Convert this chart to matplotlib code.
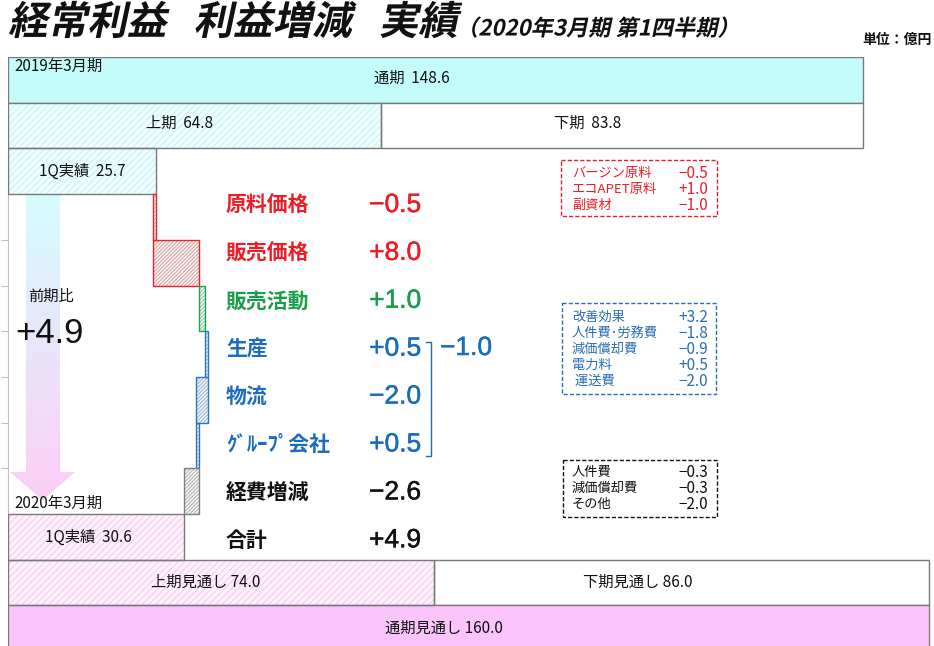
import matplotlib
matplotlib.use('Agg')
import matplotlib.pyplot as plt
import numpy as np
from matplotlib import patheffects
from matplotlib.transforms import Affine2D
from matplotlib.patches import Rectangle, Polygon

plt.rcParams['font.family'] = ['Noto Sans CJK JP', 'DejaVu Sans']
plt.rcParams['hatch.linewidth'] = 0.6

# ---------------- data ----------------
prev_period = '2019年3月期'
cur_period = '2020年3月期'
prev_full = 148.6
prev_h1 = 64.8
prev_h2 = 83.8
prev_q1 = 25.7
factor_names = ['原料価格', '販売価格', '販売活動', '生産', '物流', 'ｸﾞﾙｰﾌﾟ会社', '経費増減']
factor_values = [-0.5, 8.0, 1.0, 0.5, -2.0, 0.5, -2.6]
factor_groups = ['raw', 'raw', 'sales', 'prod', 'prod', 'prod', 'cost']
total_name = '合計'
total_change = 4.9
prod_subtotal = -1.0
cur_q1 = 30.6
fc_h1 = 74.0
fc_h2 = 86.0
fc_full = 160.0
raw_detail_names = ['バージン原料', 'エコAPET原料', '副資材']
raw_detail_values = [-0.5, 1.0, -1.0]
prod_detail_names = ['改善効果', '人件費･労務費', '減価償却費', '電力料', ' 運送費']
prod_detail_values = [3.2, -1.8, -0.9, 0.5, -2.0]
cost_detail_names = ['人件費', '減価償却費', 'その他']
cost_detail_values = [-0.3, -0.3, -2.0]


def fmt(v):
    return ('+' if v >= 0 else '\u2212') + f'{abs(v):.1f}'


# ---------------- layout ----------------
W, H = 934, 646
PX_PER_UNIT = 5.755
ROW = 45.7
AX_LEFT, AX_TOP = 8, 57

fig = plt.figure(figsize=(W / 100, H / 100), dpi=100)
ax = fig.add_axes([AX_LEFT / W, 0, 1 - AX_LEFT / W, (H - AX_TOP) / H])
xmax = (W - AX_LEFT) / PX_PER_UNIT
ymax = (H - AX_TOP) / ROW


def X(px):
    return (px - AX_LEFT) / PX_PER_UNIT


def Y(py):
    return (py - AX_TOP) / ROW


EDGE = '#7a7a7a'
CYAN = '#c4fcfc'
PINK = '#fcc4fc'
RED = '#ee1c25'
GREEN = '#1a9e4a'
BLUE = '#1a6cbf'
BLACK = '#111111'

group_style = {
    'raw': dict(edge='#e8262b', hatch='#c89a9a', face='#fbeeee'),
    'sales': dict(edge='#22a050', hatch='#80b896', face='#eef8f1'),
    'prod': dict(edge='#2e75c0', hatch='#8aa8c8', face='#eef4fa'),
    'cost': dict(edge='#808080', hatch='#a8a8a8', face='#f2f2f2'),
}


def hbar(row, width, left, face, edge, hatch=None, hatchcolor=None, lw=1.0):
    if hatch:
        ax.barh(row + 0.5, width, left=left, height=1.0, color=face,
                edgecolor=hatchcolor, hatch=hatch, linewidth=0, zorder=2)
        ax.barh(row + 0.5, width, left=left, height=1.0, fill=False,
                edgecolor=edge, linewidth=lw, zorder=3)
    else:
        ax.barh(row + 0.5, width, left=left, height=1.0, color=face,
                edgecolor=edge, linewidth=lw, zorder=2)


CYAN_H = dict(face='#edfefe', hc='#c2f0f2')
PINK_H = dict(face='#fef0fd', hc='#f4c4f0')

# previous year bars
hbar(0, prev_full, 0, CYAN, EDGE)
hbar(1, prev_h1, 0, CYAN_H['face'], EDGE, '/////', CYAN_H['hc'])
hbar(1, prev_h2, prev_h1, 'white', EDGE)
hbar(2, prev_q1, 0, CYAN_H['face'], EDGE, '/////', CYAN_H['hc'])

# waterfall
cum = prev_q1
for i, (v, g) in enumerate(zip(factor_values, factor_groups)):
    st = group_style[g]
    left = min(cum, cum + v)
    hbar(3 + i, abs(v), left, st['face'], st['edge'], '/////////', st['hatch'])
    cum += v

# current year / forecast bars
hbar(10, cur_q1, 0, PINK_H['face'], EDGE, '/////', PINK_H['hc'])
hbar(11, fc_h1, 0, PINK_H['face'], EDGE, '/////', PINK_H['hc'])
hbar(11, fc_h2, fc_h1, 'white', EDGE)
hbar(12, fc_full, 0, PINK, EDGE)

# gradient arrow
sx0, sx1 = X(26), X(60)
hx0, hx1 = X(10), X(75)
ytop, yhead, ytip = Y(194), Y(472), Y(500)
arrow_poly = Polygon([(sx0, ytop), (sx1, ytop), (sx1, yhead), (hx1, yhead),
                      ((hx0 + hx1) / 2, ytip), (hx0, yhead), (sx0, yhead)],
                     closed=True, facecolor='none', edgecolor='none',
                     transform=ax.transData)
ax.add_patch(arrow_poly)
c_top = np.array([214, 252, 254]) / 255
c_bot = np.array([252, 206, 246]) / 255
t = np.linspace(0, 1, 256)[:, None]
grad = (c_top[None, :] * (1 - t) + c_bot[None, :] * t)[:, None, :]
im = ax.imshow(grad, extent=(hx0, hx1, ytip, ytop), origin='upper',
               aspect='auto', zorder=1, interpolation='bilinear')
im.set_clip_path(arrow_poly)

# axes styling
ax.set_xlim(0, xmax)
ax.set_ylim(ymax, 0)
for s in ['top', 'right', 'bottom']:
    ax.spines[s].set_visible(False)
ax.spines['left'].set_color('#c0c0c0')
ax.spines['left'].set_bounds(2, 10)
ax.set_xticks([])
ax.set_yticks([4, 5, 6, 7, 8, 9])
ax.tick_params(axis='y', direction='out', length=5, color='#c0c0c0',
               labelleft=False)
ax.patch.set_visible(False)

# ---------------- texts ----------------
CJK = ['Noto Sans CJK JP', 'DejaVu Sans']
NUM = ['Liberation Sans', 'DejaVu Sans']


def T(px, py, s, **kw):
    kw.setdefault('fontsize', 11)
    kw.setdefault('va', 'center')
    kw.setdefault('color', BLACK)
    kw.setdefault('family', CJK)
    return ax.text(X(px), Y(py), s, zorder=5, **kw)


T(14, 66, prev_period, ha='left')
T(412, 78, f'通期  {prev_full:.1f}', ha='center')
T(180, 123, f'上期  {prev_h1:.1f}', ha='center')
T(588, 123, f'下期  {prev_h2:.1f}', ha='center')
T(82, 171, f'1Q実績  {prev_q1:.1f}', ha='center')
T(28, 296, '前期比', ha='left')
T(49, 333, f'+{total_change:.1f}', ha='center', fontsize=25, family=NUM)
T(14, 503, cur_period, ha='left')
T(88, 537, f'1Q実績  {cur_q1:.1f}', ha='center')
T(206, 582, f'上期見通し {fc_h1:.1f}', ha='center')
T(638, 582, f'下期見通し {fc_h2:.1f}', ha='center')
T(444, 628, f'通期見通し {fc_full:.1f}', ha='center')

gcolor = {'raw': RED, 'sales': GREEN, 'prod': BLUE, 'cost': BLACK}
names = factor_names + [total_name]
vals = factor_values + [total_change]
cols = [gcolor[g] for g in factor_groups] + [BLACK]
for i, (n, v, c) in enumerate(zip(names, vals, cols)):
    yy = 205 + i * 47.9
    T(226, yy, n, ha='left', fontsize=15, fontweight='bold', color=c)
    T(421, yy, fmt(v), ha='right', fontsize=19, family=NUM, color=c,
      path_effects=[patheffects.withStroke(linewidth=0.35, foreground=c)])
T(440, 348, fmt(prod_subtotal), ha='left', fontsize=19, family=NUM, color=BLUE,
  path_effects=[patheffects.withStroke(linewidth=0.35, foreground=BLUE)])
ax.plot([X(426), X(431), X(431), X(426)], [Y(342), Y(342), Y(456), Y(456)],
        color=BLUE, lw=1.0, zorder=4)


# detail boxes
def detail_box(x0, y0, x1, y1, names_, vals_, color, first_y, step):
    ax.add_patch(Rectangle((X(x0), Y(y0)), X(x1) - X(x0), Y(y1) - Y(y0),
                           fill=False, edgecolor=color, lw=1.0,
                           linestyle=(0, (3, 1.5)), zorder=4))
    for k, (n, v) in enumerate(zip(names_, vals_)):
        yy = first_y + k * step
        T(572, yy, n, ha='left', fontsize=9.5, color=color)
        T(708, yy, fmt(v), ha='right', fontsize=11, color=color)


detail_box(561, 160, 717, 216, raw_detail_names, raw_detail_values, RED, 173, 16)
detail_box(562, 303, 716, 394, prod_detail_names, prod_detail_values, '#2a6db5', 317, 16)
detail_box(563, 460, 717, 517, cost_detail_names, cost_detail_values, BLACK, 472, 16)


# ---------------- title with italic-like skew ----------------
class Skew(patheffects.AbstractPathEffect):
    def __init__(self, deg=12):
        super().__init__()
        self.deg = deg

    def draw_path(self, renderer, gc, tpath, affine, rgbFace=None):
        ox, oy = affine.transform((0, 0))
        new = affine + Affine2D().translate(-ox, -oy).skew_deg(self.deg, 0).translate(ox, oy)
        renderer.draw_path(gc, tpath, new, rgbFace)


fig.text(8 / W, 1 - 23 / H, '経常利益   利益増減   実績', fontsize=28.5,
         fontweight='bold', va='center', ha='left', family=CJK, color=BLACK,
         path_effects=[Skew(12)])
fig.text(456 / W, 1 - 29 / H, '（2020年3月期 第1四半期）', fontsize=16,
         fontweight='bold', va='center', ha='left', family=CJK, color=BLACK,
         path_effects=[Skew(12)])
fig.text(932 / W, 1 - 40 / H, '単位：億円', fontsize=10, fontweight='bold',
         va='center', ha='right', family=CJK, color=BLACK)

fig.savefig('out.png', dpi=100)
